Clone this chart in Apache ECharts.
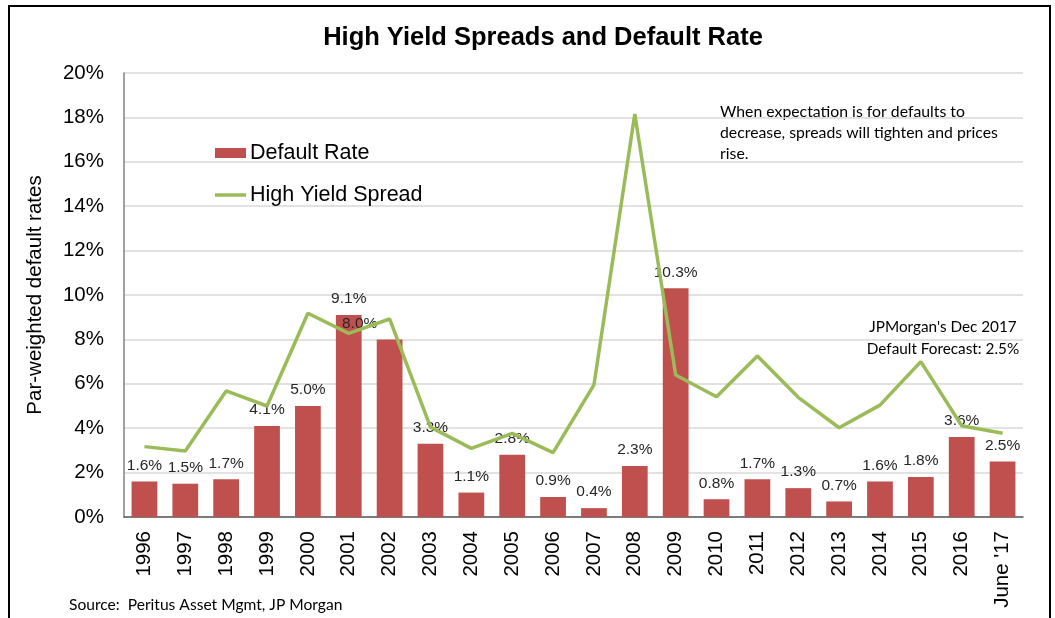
<!DOCTYPE html>
<html>
<head>
<meta charset="utf-8">
<script src="https://cdn.jsdelivr.net/npm/echarts@6/dist/echarts.min.js"></script>
<style>html,body{margin:0;padding:0;background:#fff;}#c{width:1055px;height:618px;}</style>
</head>
<body>
<div id="c"></div>
<script>
const categories = ['1996','1997','1998','1999','2000','2001','2002','2003','2004','2005','2006','2007','2008','2009','2010','2011','2012','2013','2014','2015','2016',"June '17"];
const defaultRate = [1.6,1.5,1.7,4.1,5.0,9.1,8.0,3.3,1.1,2.8,0.9,0.4,2.3,10.3,0.8,1.7,1.3,0.7,1.6,1.8,3.6,2.5];
const highYieldSpread = [3.17,2.97,5.68,5.0,9.18,8.27,8.92,4.05,3.09,3.77,2.9,5.95,18.15,6.4,5.42,7.25,5.39,4.02,5.04,7.0,4.11,3.77];
const yTicks = [0,2,4,6,8,10,12,14,16,18,20];

const chart = echarts.init(document.getElementById('c'));
const barData = defaultRate.map((v, i) => {
  const d = { value: v };
  if (i === 6) d.label = { offset: [-30, 0] };
  return d;
});
chart.setOption({
  animation: false,
  title: {
    text: 'High Yield Spreads and Default Rate',
    left: 538, textAlign: 'center', top: 20,
    textStyle: { fontFamily: 'Liberation Sans, Arial', fontWeight: 'bold', fontSize: 25.5, color: '#000' }
  },
  grid: { left: 124, right: 32, top: 73, bottom: 101, containLabel: false },
  legend: {
    orient: 'vertical', left: 215, top: 142, padding: 0, itemWidth: 31, itemHeight: 10, itemGap: 20,
    symbolKeepAspect: true,
    textStyle: { fontFamily: 'Liberation Sans, Arial', fontSize: 21.5, color: '#000', padding: [0,0,0,-1] },
    data: [
      { name: 'Default Rate', icon: 'rect' },
      { name: 'High Yield Spread', icon: 'path://M0,0 L31,0 L31,3.5 L0,3.5 Z', itemStyle: { color: '#9BBB59' } }
    ]
  },
  xAxis: {
    type: 'category', data: categories,
    axisLine: { lineStyle: { color: '#595959', width: 1.5 } },
    axisTick: { show: false },
    axisLabel: { rotate: 90, fontFamily: 'Liberation Sans, Arial', fontSize: 20.5, color: '#000', margin: 14, interval: 0 }
  },
  yAxis: {
    type: 'value', min: 0, max: 20, interval: 2,
    name: 'Par-weighted default rates', nameLocation: 'middle', nameGap: 78,
    nameTextStyle: { fontFamily: 'Liberation Sans, Arial', fontSize: 20.5, color: '#000' },
    axisLine: { show: true, lineStyle: { color: '#808080', width: 1.5 } },
    axisTick: { show: false },
    splitLine: { lineStyle: { color: '#d9d9d9', width: 1.5 } },
    axisLabel: { formatter: '{value}%', fontFamily: 'Liberation Sans, Arial', fontSize: 20.5, color: '#000', margin: 20 }
  },
  series: [
    {
      name: 'Default Rate', type: 'bar', data: barData, barCategoryGap: '37%',
      itemStyle: { color: '#C0504D' },
      label: { show: true, position: 'top', distance: 8, formatter: p => p.value.toFixed(1) + '%',
        fontFamily: 'Liberation Sans, Arial', fontSize: 15.5, color: '#262626' }
    },
    {
      name: 'High Yield Spread', type: 'line', data: highYieldSpread, symbol: 'none',
      lineStyle: { color: '#9BBB59', width: 3.5 }, itemStyle: { color: '#9BBB59' }, z: 3
    }
  ],
  graphic: [
    { type: 'rect', shape: { x: 9, y: 6, width: 1041, height: 700 }, style: { fill: 'none', stroke: '#000', lineWidth: 2 }, silent: true },
    { type: 'text', left: 720, top: 101, style: { text: 'When expectation is for defaults to\ndecrease, spreads will tighten and prices\nrise.', fontFamily: 'Lato, Open Sans', fontSize: 15.8, lineHeight: 21, fill: '#000' } },
    { type: 'text', x: 943, y: 316, style: { text: "JPMorgan's Dec 2017\nDefault Forecast: 2.5%", align: 'center', fontFamily: 'Lato, Open Sans', fontSize: 15.3, lineHeight: 22, fill: '#000' } },
    { type: 'text', left: 69, top: 597, style: { text: 'Source:  Peritus Asset Mgmt, JP Morgan', fontFamily: 'Lato, Open Sans', fontSize: 15.6, fill: '#000' } }
  ]
});
</script>
</body>
</html>
